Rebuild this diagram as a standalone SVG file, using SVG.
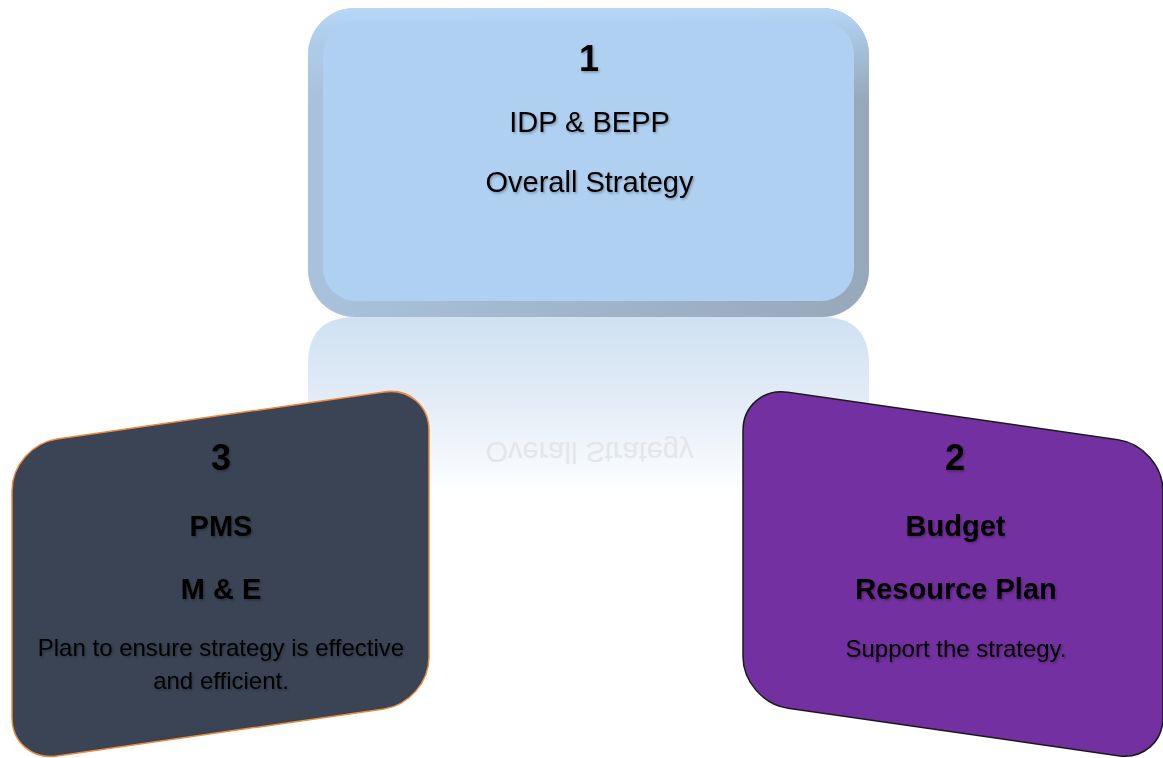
<svg xmlns="http://www.w3.org/2000/svg" width="1163" height="758" viewBox="0 0 1163 758">
  <defs>
    <style>
      text { font-family: "Liberation Sans", Arial, sans-serif; fill: #000; text-anchor: middle; }
      .num { font-size: 36px; font-weight: bold; }
      .head { font-size: 29px; }
      .bhead { font-size: 29px; font-weight: bold; }
      .body { font-size: 24px; }
      .refl { font-size: 29px; fill: #e3e6ea; }
    </style>
    <linearGradient id="bevel" x1="0" y1="0" x2="1" y2="0">
      <stop offset="0" stop-color="#a9c2dc"/>
      <stop offset="1" stop-color="#97a8ba"/>
    </linearGradient>
    <linearGradient id="bevelTop" x1="0" y1="0" x2="0" y2="1">
      <stop offset="0" stop-color="#b6d8f8" stop-opacity="1"/>
      <stop offset="0.12" stop-color="#b0d2f2" stop-opacity="0.6"/>
      <stop offset="0.3" stop-color="#b0d2f2" stop-opacity="0"/>
    </linearGradient>
    <linearGradient id="reflGrad" gradientUnits="userSpaceOnUse" x1="0" y1="317" x2="0" y2="495">
      <stop offset="0" stop-color="#cfe1f2"/>
      <stop offset="0.5" stop-color="#e4edf7"/>
      <stop offset="1" stop-color="#ffffff"/>
    </linearGradient>
    <filter id="tshadow" x="-10%" y="-30%" width="120%" height="160%">
      <feDropShadow dx="1.2" dy="1.5" stdDeviation="1" flood-color="#000" flood-opacity="0.3"/>
    </filter>
  </defs>

  <rect width="1163" height="758" fill="#ffffff"/>

  <g id="reflection">
    <path d="M308,500 L308,364 Q308,317 355,317 L822,317 Q869,317 869,364 L869,500 Z" fill="url(#reflGrad)"/>
    <text class="refl" transform="translate(0,634) scale(1,-1)" x="589.5" y="192">Overall Strategy</text>
  </g>

  <g id="node1">
    <rect x="308" y="8" width="561" height="309" rx="47" fill="url(#bevel)"/>
    <rect x="308" y="8" width="561" height="309" rx="47" fill="url(#bevelTop)"/>
    <rect x="323" y="21" width="531" height="280" rx="33" fill="#afd0f1"/>
    <g filter="url(#tshadow)">
      <text class="num" x="589" y="71">1</text>
      <text class="head" x="589.5" y="132">IDP &amp; BEPP</text>
      <text class="head" x="589.5" y="192">Overall Strategy</text>
    </g>
  </g>

  <g id="node3">
    <rect transform="translate(12,445.5) skewY(-8.2)" x="0" y="0" width="417" height="317" rx="45" fill="#3a4455" stroke="#f08a3c" stroke-width="1.5"/>
    <g filter="url(#tshadow)">
      <text class="num" x="221" y="470">3</text>
      <text class="bhead" x="221" y="536">PMS</text>
      <text class="bhead" x="221" y="599">M &amp; E</text>
      <text class="body" x="221" y="656">Plan to ensure strategy is effective</text>
      <text class="body" x="221" y="689">and efficient.</text>
    </g>
  </g>

  <g id="node2">
    <rect transform="translate(743,385.7) skewY(8.2)" x="0" y="0" width="420" height="316" rx="45" fill="#7330a0" stroke="#1a1a1a" stroke-width="1.5"/>
    <g filter="url(#tshadow)">
      <text class="num" x="955" y="470">2</text>
      <text class="bhead" x="955.5" y="536">Budget</text>
      <text class="bhead" x="956" y="599">Resource Plan</text>
      <text class="body" x="956" y="657">Support the strategy.</text>
    </g>
  </g>

  <g id="connectors"></g>
</svg>
